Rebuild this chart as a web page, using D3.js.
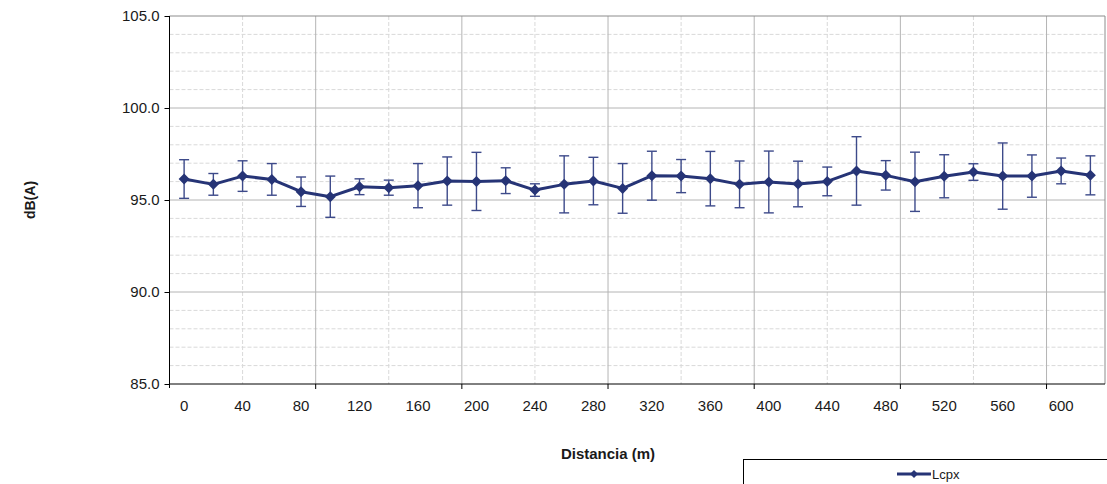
<!DOCTYPE html>
<html>
<head>
<meta charset="utf-8">
<script src="https://cdn.jsdelivr.net/npm/d3@7"></script>
<style>
  body { margin: 0; background: #fff; }
  text { font-family: "Liberation Sans", Arial, sans-serif; }
</style>
</head>
<body>
<div id="chart"></div>
<script>
const distances = [0, 20, 40, 60, 80, 100, 120, 140, 160, 180, 200, 220, 240, 260, 280, 300,
                   320, 340, 360, 380, 400, 420, 440, 460, 480, 500, 520, 540, 560, 580, 600, 620];
const lcpx = [96.14, 95.85, 96.30, 96.12, 95.45, 95.18, 95.72, 95.67, 95.78, 96.03, 96.01, 96.05,
              95.54, 95.85, 96.03, 95.63, 96.32, 96.30, 96.16, 95.85, 95.98, 95.87, 96.01, 96.58,
              96.34, 95.99, 96.29, 96.52, 96.30, 96.30, 96.58, 96.34];
const lcpxSd = [1.05, 0.59, 0.83, 0.86, 0.80, 1.12, 0.43, 0.41, 1.20, 1.31, 1.58, 0.70,
                0.34, 1.55, 1.29, 1.35, 1.33, 0.90, 1.48, 1.27, 1.68, 1.24, 0.78, 1.86,
                0.80, 1.61, 1.17, 0.45, 1.80, 1.15, 0.70, 1.06];
const yTicks = [85, 90, 95, 100, 105];
const seriesName = "Lcpx";

const W = 1107, H = 484;
const plot = {left: 169.5, right: 1105, top: 16, bottom: 384};

const svg = d3.select("#chart").append("svg")
  .attr("width", W)
  .attr("height", H);

const x = d3.scaleBand()
  .domain(d3.range(distances.length))
  .range([plot.left, plot.right])
  .padding(0);
const xb = d3.scaleLinear().domain([0, distances.length]).range([plot.left, plot.right]);
const y = d3.scaleLinear().domain([85, 105]).range([plot.bottom, plot.top]);
const cx = i => x(i) + x.bandwidth() / 2;

// minor horizontal grid (dashed)
svg.append("g").selectAll("line")
  .data(d3.range(86, 105).filter(v => v % 5 !== 0))
  .join("line")
  .attr("x1", plot.left).attr("x2", plot.right)
  .attr("y1", d => y(d)).attr("y2", d => y(d))
  .attr("stroke", "#d9d9d9")
  .attr("stroke-dasharray", "4,2");

// minor vertical grid (dashed)
svg.append("g").selectAll("line")
  .data([2.5, 7.5, 12.5, 17.5, 22.5, 27.5])
  .join("line")
  .attr("x1", d => xb(d)).attr("x2", d => xb(d))
  .attr("y1", plot.top).attr("y2", plot.bottom)
  .attr("stroke", "#d9d9d9")
  .attr("stroke-dasharray", "4,2");

// major grid
svg.append("g").selectAll("line")
  .data([90, 95, 100])
  .join("line")
  .attr("x1", plot.left).attr("x2", plot.right)
  .attr("y1", d => y(d)).attr("y2", d => y(d))
  .attr("stroke", "#b4b4b4");

svg.append("g").selectAll("line")
  .data([5, 10, 15, 20, 25, 30])
  .join("line")
  .attr("x1", d => xb(d)).attr("x2", d => xb(d))
  .attr("y1", plot.top).attr("y2", plot.bottom)
  .attr("stroke", "#b4b4b4");

// plot border top / right
svg.append("path")
  .attr("d", `M${plot.left},${plot.top}H${plot.right}V${plot.bottom}`)
  .attr("fill", "none")
  .attr("stroke", "#8c8c8c");

// y axis
const yAxis = svg.append("g")
  .attr("transform", `translate(${plot.left},0)`)
  .call(d3.axisLeft(y).tickValues(yTicks).tickFormat(d3.format(".1f")).tickSize(5).tickPadding(5));
yAxis.select(".domain").attr("stroke", "#000").attr("d", `M0,${plot.top}V${plot.bottom + 4}`);
yAxis.selectAll(".tick line").attr("stroke", "#000");
yAxis.selectAll("text").style("font-size", "15px").attr("fill", "#1a1a1a");

// x axis
const xAxis = svg.append("g")
  .attr("transform", `translate(0,${plot.bottom})`)
  .call(d3.axisBottom(x)
    .tickValues(d3.range(0, distances.length, 2))
    .tickFormat(i => distances[i])
    .tickSize(0)
    .tickPadding(16));
xAxis.select(".domain").attr("stroke", "#000").attr("d", `M${plot.left},0H${plot.right}`);
xAxis.selectAll("text").style("font-size", "15px").attr("fill", "#1a1a1a");

svg.append("g").selectAll("line")
  .data([5, 10, 15, 20, 25, 30])
  .join("line")
  .attr("x1", d => xb(d)).attr("x2", d => xb(d))
  .attr("y1", plot.bottom).attr("y2", plot.bottom + 5)
  .attr("stroke", "#000");

// axis titles
svg.append("text")
  .attr("x", 608).attr("y", 459)
  .attr("text-anchor", "middle")
  .style("font-size", "15px")
  .style("font-weight", "bold")
  .attr("fill", "#1a1a1a")
  .text("Distancia (m)");

svg.append("text")
  .attr("transform", `translate(35,200) rotate(-90)`)
  .attr("text-anchor", "middle")
  .style("font-size", "14px")
  .style("font-weight", "bold")
  .attr("fill", "#1a1a1a")
  .text("dB(A)");

const navy = "#263476";
const diamond = "M0,-5.5L5.5,0L0,5.5L-5.5,0Z";

// error bars
const eb = svg.append("g").attr("stroke", "#3d4a8a").attr("stroke-width", 1.4);
eb.selectAll(".v").data(lcpx).join("line")
  .attr("x1", (d, i) => cx(i)).attr("x2", (d, i) => cx(i))
  .attr("y1", (d, i) => y(d + lcpxSd[i])).attr("y2", (d, i) => y(d - lcpxSd[i]));
eb.selectAll(".t").data(lcpx).join("line")
  .attr("x1", (d, i) => cx(i) - 5).attr("x2", (d, i) => cx(i) + 5)
  .attr("y1", (d, i) => y(d + lcpxSd[i])).attr("y2", (d, i) => y(d + lcpxSd[i]));
eb.selectAll(".b").data(lcpx).join("line")
  .attr("x1", (d, i) => cx(i) - 5).attr("x2", (d, i) => cx(i) + 5)
  .attr("y1", (d, i) => y(d - lcpxSd[i])).attr("y2", (d, i) => y(d - lcpxSd[i]));

// line
svg.append("path")
  .datum(lcpx)
  .attr("fill", "none")
  .attr("stroke", navy)
  .attr("stroke-width", 3)
  .attr("stroke-linejoin", "round")
  .attr("d", d3.line().x((d, i) => cx(i)).y(d => y(d)));

svg.append("g").selectAll("path")
  .data(lcpx)
  .join("path")
  .attr("d", diamond)
  .attr("transform", (d, i) => `translate(${cx(i)},${y(d)})`)
  .attr("fill", navy);

// legend
svg.append("rect")
  .attr("x", 743.5).attr("y", 459.5)
  .attr("width", 400).attr("height", 40)
  .attr("fill", "#fff")
  .attr("stroke", "#000");
svg.append("line")
  .attr("x1", 897).attr("x2", 931)
  .attr("y1", 474).attr("y2", 474)
  .attr("stroke", navy).attr("stroke-width", 3);
svg.append("path")
  .attr("d", "M0,-4L4,0L0,4L-4,0Z")
  .attr("transform", "translate(914,474)")
  .attr("fill", navy);
svg.append("text")
  .attr("x", 932).attr("y", 478.5)
  .style("font-size", "13px")
  .attr("fill", "#1a1a1a")
  .text(seriesName);
</script>
</body>
</html>
